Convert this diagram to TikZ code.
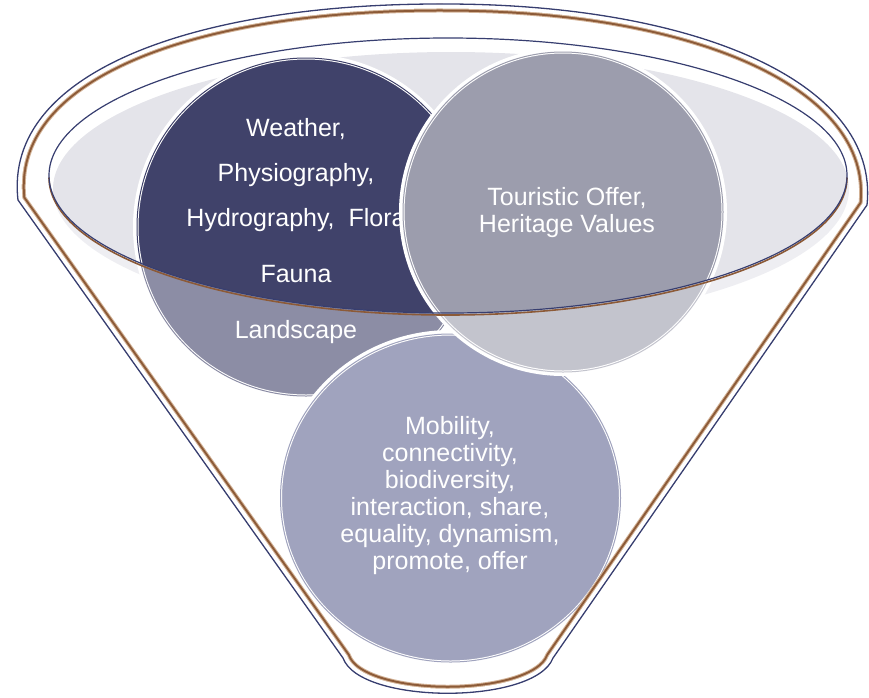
\documentclass[tikz,border=0pt]{standalone}
\usepackage{fontspec}
\setmainfont{Liberation Sans}
\usepackage{tikz}
\usetikzlibrary{shapes.geometric}

\definecolor{edgenavy}{RGB}{55,62,112}
\definecolor{rimbrown}{RGB}{140,90,55}
\definecolor{rimlight}{RGB}{210,178,150}
\definecolor{bowlgray}{RGB}{228,228,234}
\definecolor{naturefill}{RGB}{64,66,106}
\definecolor{offerfill}{RGB}{156,157,173}
\definecolor{flowfill}{RGB}{98,103,147}

\newcommand{\funnelshape}{(18,200) .. controls (3,70) and (200,3) .. (445,4)
  .. controls (690,4) and (880,80) .. (867,205) -- (553,658)
  .. controls (535,705) and (360,705) .. (343,658) -- cycle}

\begin{document}
\begin{tikzpicture}[x=1pt, y=-1pt,
    every node/.style={inner sep=0pt, outer sep=0pt},
    blob/.style={draw=white, line width=5.5pt},
    ring/.style={line width=1pt},
    lbl/.style={text=white, align=center, font=\fontsize{25}{27}\selectfont}]
    \useasboundingbox (0,0) rectangle (869,697);

    % Opening of the funnel
    \fill[bowlgray] (451,189) ellipse[x radius=398pt, y radius=137pt];

    % Circles
    \node[blob, circle, fill=naturefill, minimum size=340.5pt] (nature) at (306,227) {};
    \draw[ring, naturefill] (nature.center) circle[radius=169pt];
    \node[lbl, font=\fontsize{25}{45}\selectfont] (nature-txt) at (296,231)
        {Weather,\\Physiography,\\Hydrography,~ Flora\\[11pt]Fauna\\[11pt]Landscape};

    \node[blob, ellipse, fill=flowfill, minimum width=342.5pt, minimum height=330.5pt] (flow) at (450.5,498) {};
    \draw[ring, flowfill] (flow.center) ellipse[x radius=170pt, y radius=164pt];
    \node[lbl] (flow-txt) at (450,496)
        {Mobility,\\connectivity,\\biodiversity,\\interaction, share,\\equality, dynamism,\\promote, offer};

    \node[blob, circle, fill=offerfill, minimum size=322.5pt] (offer) at (563,212) {};
    \draw[ring, offerfill] (offer.center) circle[radius=160pt];
    \node[lbl] (offer-txt) at (567,213) {Touristic Offer,\\Heritage Values};

    % Body of the funnel fades what lies below the opening
    \fill[white, fill opacity=0.4, even odd rule] \funnelshape
        (448,175.5) ellipse[x radius=399pt, y radius=137.5pt];

    % Rim of the opening
    \draw[rimbrown, line width=1.6pt] (49,177.5) arc[start angle=180, end angle=360, x radius=399pt, y radius=137.5pt];
    \draw[edgenavy, line width=1.2pt] (448,175.5) ellipse[x radius=399pt, y radius=137.5pt];

    % Outline of the funnel
    \begin{scope}
        \clip \funnelshape;
        \draw[rimlight, line width=17pt] \funnelshape;
        \draw[rimbrown, line width=15pt] \funnelshape;
        \draw[rimlight, line width=11pt] \funnelshape;
        \draw[white, line width=9pt] \funnelshape;
    \end{scope}
    \draw[edgenavy, line width=1.3pt] \funnelshape;
\end{tikzpicture}
\end{document}
